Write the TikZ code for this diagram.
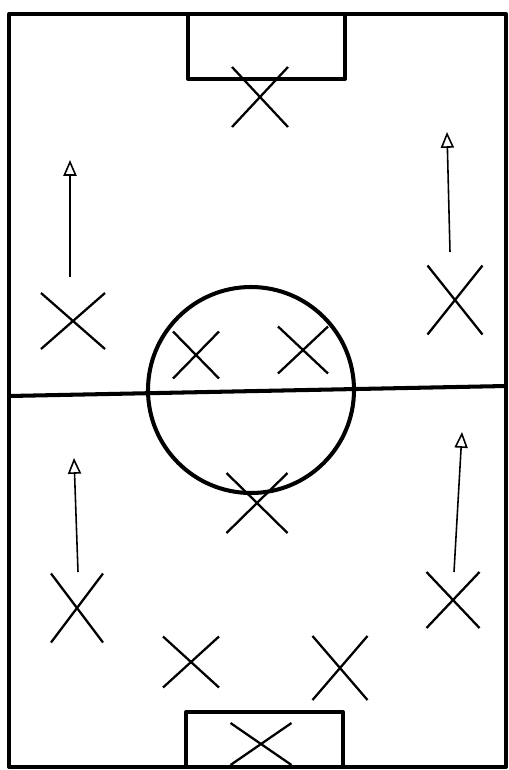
\documentclass[tikz,border=0pt]{standalone}
\usepackage{tikz}
\usetikzlibrary{arrows.meta}
\usetikzlibrary{shapes.misc}

\begin{document}
\begin{tikzpicture}[x=0.2mm,y=-0.2mm,
  pitch/.style={line width=2.3pt,line join=round},
  player/.style={cross out,draw,line width=1.3pt,inner sep=0pt,outer sep=0pt},
  run/.style={-{Triangle[open,length=9pt,width=7.5pt]},line width=0.9pt}]
\useasboundingbox (0,0) rectangle (508,770);

% pitch
\draw[pitch] (9,14) rectangle (506,767);
\draw[pitch] (188,14) rectangle (345,79);
\draw[pitch] (186,712) rectangle (343,767);
\draw[pitch] (9,396) -- (506,386);
\draw[pitch] (251,390) circle[radius=103];

% players
\foreach \p/\x/\y/\w/\h in {gk/260/97/56/60, lw/73/321/64/56, rw/455/300/55/69,
  lcf/196/355/46/47, rcf/303/350/50/47, cm/257/503/61/60,
  lm/77/608/52/69, rm/453/600/53/56, lb/191/662/56/51,
  rb/340/668/55/64, gkb/261/744/61/42}
  \node[player,minimum width=\w*0.2mm,minimum height=\h*0.2mm] (\p) at (\x,\y) {};

% runs
\coordinate (lw from) at (70,277);
\coordinate (lw to)   at (70,160);
\coordinate (rw from) at (450,252);
\coordinate (rw to)   at (447,132);
\coordinate (lm from) at (78,572);
\coordinate (lm to)   at (74,458);
\coordinate (rm from) at (454,572);
\coordinate (rm to)   at (462,432);

\path (lw from) edge[run] (lw to)
      (rw from) edge[run] (rw to)
      (lm from) edge[run] (lm to)
      (rm from) edge[run] (rm to);
\end{tikzpicture}
\end{document}
